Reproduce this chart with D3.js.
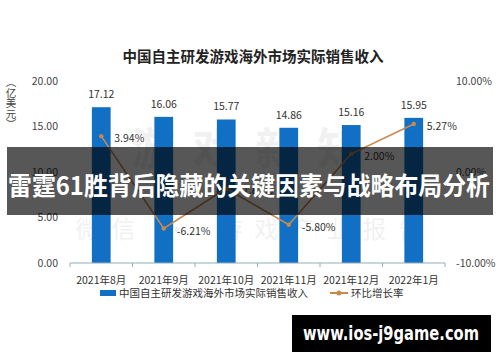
<!DOCTYPE html>
<html>
<head>
<meta charset="utf-8">
<script src="https://cdn.jsdelivr.net/npm/d3@7"></script>
<style>
  body { margin: 0; background: #fff; }
  svg { display: block; font-family: "Noto Sans CJK SC", "Noto Sans", sans-serif; }
</style>
</head>
<body>
<div id="chart"></div>
<script>
let width = 500, height = 362;

// data
const months = ["2021年8月", "2021年9月", "2021年10月", "2021年11月", "2021年12月", "2022年1月"];
const revenue = [17.12, 16.06, 15.77, 14.86, 15.16, 15.95];
const growth = [3.94, -6.21, -1.81, -5.80, 2.00, 5.27];
const leftTicks = [0, 5, 10, 15, 20];
const rightTicks = [-10, 0, 10];

const barColor = "#1170c4", lineColor = "#c8894f";
let fmt = d => d.toFixed(2); // plain hyphen minus like the source

let svg = d3.select("#chart").append("svg")
    .attr("width", width)
    .attr("height", height);

svg.append("rect").attr("width", width).attr("height", height).attr("fill", "#fff");

let x = d3.scaleBand().domain(months).range([70, 445]).paddingInner(0.7).paddingOuter(0.35);
let yL = d3.scaleLinear().domain([0, 20]).range([263, 81]);
let yR = d3.scaleLinear().domain([-10, 10]).range([263, 81]);

// faint background watermark
let wm = svg.append("g").attr("fill", "#000").attr("opacity", 0.05)
    .style("font-weight", "bold");
wm.append("text").attr("x", 255).attr("y", 165).attr("text-anchor", "middle")
    .style("font-size", "44px").attr("letter-spacing", 18).text("游戏新知");
wm.append("text").attr("x", 255).attr("y", 238).attr("text-anchor", "middle")
    .style("font-size", "24px").style("font-weight", "normal").attr("letter-spacing", 12)
    .text("微信 · 游戏产业报告");

// title
svg.append("text").attr("x", 253).attr("y", 62).attr("text-anchor", "middle")
    .style("font-size", "14.5px").style("font-weight", "bold").attr("fill", "#222")
    .text("中国自主研发游戏海外市场实际销售收入");

// y unit label, vertical
let unit = svg.append("text").attr("x", 11).attr("fill", "#444").style("font-size", "10.5px")
    .attr("text-anchor", "middle");
["︵", "亿", "美", "元", "︶"].forEach(function(c, i) {
    unit.append("tspan").attr("x", 11).attr("y", 86 + i * 10.5).text(c);
});

// left axis labels
svg.append("g").selectAll("text").data(leftTicks).enter().append("text")
    .attr("x", 58).attr("y", d => yL(d)).attr("dy", "0.35em").attr("text-anchor", "end")
    .attr("fill", "#444").style("font-size", "10.5px")
    .text(fmt);

// right axis labels
svg.append("g").selectAll("text").data(rightTicks).enter().append("text")
    .attr("x", 456).attr("y", d => yR(d)).attr("dy", "0.35em")
    .attr("fill", "#444").style("font-size", "10.5px")
    .text(d => fmt(d) + "%");

// bars
svg.append("g").selectAll("rect").data(revenue).enter().append("rect")
    .attr("x", (d, i) => x(months[i]))
    .attr("width", x.bandwidth())
    .attr("y", d => yL(d))
    .attr("height", d => yL(0) - yL(d))
    .attr("fill", barColor);

svg.append("g").selectAll("text").data(revenue).enter().append("text")
    .attr("x", (d, i) => x(months[i]) + x.bandwidth() / 2)
    .attr("y", d => yL(d) - 9)
    .attr("text-anchor", "middle").attr("fill", "#333").style("font-size", "10.5px")
    .text(fmt);

// x axis line with ticks at band edges
let axisColor = "#8fb0b8";
svg.append("line").attr("x1", 70).attr("x2", 445).attr("y1", yL(0)).attr("y2", yL(0))
    .attr("stroke", axisColor).attr("stroke-width", 1);
let edges = months.map(m => x(m) - (x.step() - x.bandwidth()) / 2).concat([445]);
svg.append("g").selectAll("line").data(edges).enter().append("line")
    .attr("x1", d => d).attr("x2", d => d).attr("y1", yL(0)).attr("y2", yL(0) + 4)
    .attr("stroke", axisColor);

svg.append("g").selectAll("text").data(months).enter().append("text")
    .attr("x", d => x(d) + x.bandwidth() / 2).attr("y", 284)
    .attr("text-anchor", "middle").attr("fill", "#333").style("font-size", "10.5px")
    .text(d => d);

// growth line
let cx = (d, i) => x(months[i]) + x.bandwidth() / 2;
let line = d3.line().x(cx).y(d => yR(d));
svg.append("path").datum(growth).attr("d", line)
    .attr("fill", "none").attr("stroke", lineColor).attr("stroke-width", 1.6);
svg.append("g").selectAll("circle").data(growth).enter().append("circle")
    .attr("cx", cx).attr("cy", d => yR(d)).attr("r", 2.2).attr("fill", lineColor);
svg.append("g").selectAll("text").data(growth).enter().append("text")
    .attr("x", (d, i) => cx(d, i) + 13).attr("y", d => yR(d) + 6)
    .attr("fill", "#333").style("font-size", "10.5px")
    .text(d => fmt(d) + "%");

// legend
let lg = svg.append("g").attr("transform", "translate(0,293)");
lg.append("rect").attr("x", 100).attr("y", -3).attr("width", 16).attr("height", 6).attr("fill", barColor);
lg.append("text").attr("x", 119).attr("dy", "0.35em").attr("fill", "#333").style("font-size", "10.5px")
    .text("中国自主研发游戏海外市场实际销售收入");
lg.append("line").attr("x1", 330).attr("x2", 348).attr("stroke", lineColor).attr("stroke-width", 2);
lg.append("circle").attr("cx", 339).attr("r", 2.5).attr("fill", lineColor);
lg.append("text").attr("x", 351).attr("dy", "0.35em").attr("fill", "#333").style("font-size", "10.5px")
    .text("环比增长率");

// overlay banner
svg.append("rect").attr("x", 7).attr("y", 147).attr("width", 486).attr("height", 68)
    .attr("fill", "#000").attr("opacity", 0.66);
svg.append("text").attr("x", 8).attr("y", 195)
    .attr("textLength", 482).attr("lengthAdjust", "spacingAndGlyphs")
    .attr("fill", "#fff").style("font-size", "25px").style("font-weight", "bold")
    .text("雷霆61胜背后隐藏的关键因素与战略布局分析");

// site box
svg.append("rect").attr("x", 292).attr("y", 315).attr("width", 199).attr("height", 37).attr("fill", "#000");
svg.append("text").attr("x", 303).attr("y", 340)
    .attr("textLength", 176).attr("lengthAdjust", "spacingAndGlyphs")
    .attr("fill", "#fff").style("font-size", "19px").style("font-weight", "bold")
    .style("font-family", "'DejaVu Sans', sans-serif")
    .text("www.ios-j9game.com");
</script>
</body>
</html>
